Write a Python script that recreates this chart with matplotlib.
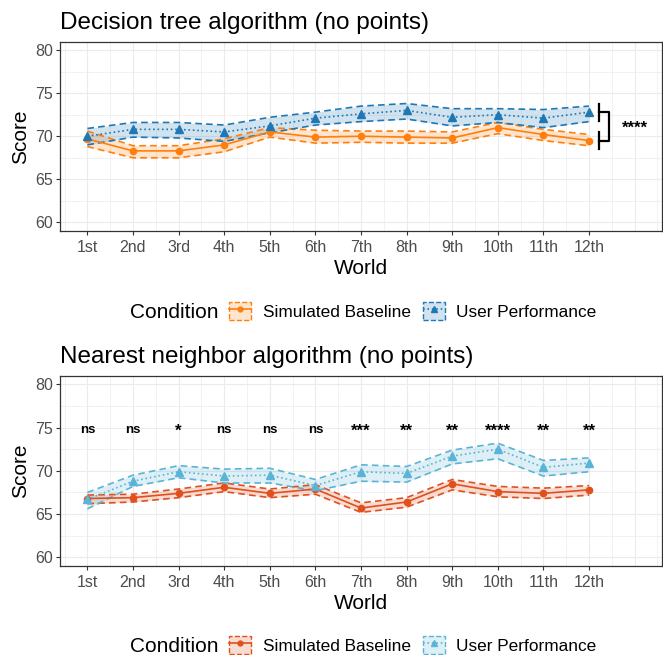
import numpy as np
import matplotlib
matplotlib.use("Agg")
import matplotlib.pyplot as plt
from matplotlib.patches import Patch
from matplotlib.lines import Line2D
from matplotlib.legend_handler import HandlerTuple
from matplotlib.colors import to_rgba

plt.rcParams['font.family'] = ['Liberation Sans', 'DejaVu Sans']

worlds = ["1st", "2nd", "3rd", "4th", "5th", "6th", "7th", "8th", "9th", "10th", "11th", "12th"]

# decision tree (top panel)
dt_sim = [69.7, 68.3, 68.3, 69.0, 70.5, 69.9, 70.0, 69.9, 69.8, 71.0, 70.2, 69.5]
dt_sim_lo = [68.8, 67.5, 67.5, 68.2, 69.9, 69.2, 69.3, 69.2, 69.2, 70.3, 69.5, 68.9]
dt_sim_hi = [70.6, 68.9, 68.9, 69.7, 71.0, 70.7, 70.6, 70.6, 70.5, 71.6, 70.8, 70.2]
dt_user = [70.0, 70.8, 70.8, 70.5, 71.2, 72.1, 72.6, 73.0, 72.2, 72.5, 72.1, 72.8]
dt_user_lo = [69.0, 69.9, 69.8, 69.4, 70.4, 71.3, 71.7, 72.0, 71.2, 71.6, 71.0, 71.7]
dt_user_hi = [70.9, 71.6, 71.6, 71.3, 72.2, 72.8, 73.5, 73.8, 73.2, 73.2, 73.1, 73.5]

# nearest neighbor (bottom panel)
nn_sim = [66.8, 66.9, 67.4, 68.1, 67.4, 67.9, 65.7, 66.4, 68.5, 67.6, 67.4, 67.8]
nn_sim_lo = [66.2, 66.4, 66.9, 67.6, 66.9, 67.3, 65.2, 65.8, 67.8, 67.0, 66.8, 67.2]
nn_sim_hi = [67.2, 67.3, 67.9, 68.6, 67.9, 68.4, 66.3, 66.9, 69.0, 68.2, 68.0, 68.3]
nn_user = [66.7, 68.8, 69.9, 69.4, 69.5, 68.3, 69.9, 69.7, 71.7, 72.5, 70.4, 70.9]
nn_user_lo = [65.6, 68.2, 69.2, 68.6, 68.6, 67.7, 68.8, 68.7, 70.8, 71.4, 69.4, 69.9]
nn_user_hi = [67.5, 69.5, 70.6, 70.2, 70.3, 69.0, 70.7, 70.5, 72.4, 73.2, 71.2, 71.5]
nn_sig = ["ns", "ns", "*", "ns", "ns", "ns", "***", "**", "**", "****", "**", "**"]

x = np.arange(1, len(worlds) + 1)

fig = plt.figure(figsize=(6.63, 6.55), dpi=100)
ax1 = fig.add_axes([60 / 663, 1 - 231 / 655, 602 / 663, 189.5 / 655])
ax2 = fig.add_axes([60 / 663, 1 - 566 / 655, 602 / 663, 190.3 / 655])


def draw_series(ax, y, lo, hi, color, marker, ls):
    ax.fill_between(x, lo, hi, color=color, alpha=0.2, lw=0, zorder=2)
    ax.plot(x, lo, color=color, ls=(0, (4, 2.5)), lw=1.2, zorder=3)
    ax.plot(x, hi, color=color, ls=(0, (4, 2.5)), lw=1.2, zorder=3)
    ax.plot(x, y, color=color, ls=ls, lw=1.2, marker=marker,
            markersize=5.5 if marker == '^' else 4.5, zorder=4)


def style_axes(ax, title):
    ax.set_xlim(0.4, 13.6)
    ax.set_ylim(59, 81)
    for v in np.arange(0.5, 14, 0.5):
        ax.axvline(v, color='#EBEBEB', lw=0.8 if v % 1 == 0 else 0.5, zorder=0)
    for v in np.arange(60, 81, 2.5):
        ax.axhline(v, color='#EBEBEB', lw=0.8 if v % 5 == 0 else 0.5, zorder=0)
    ax.set_xticks(x)
    ax.set_xticklabels(worlds)
    ax.set_yticks([60, 65, 70, 75, 80])
    ax.tick_params(colors='#333333', labelcolor='#4D4D4D', labelsize=11.5,
                   length=3, width=0.8, pad=2)
    ax.tick_params(axis='x', pad=3.5)
    for s in ax.spines.values():
        s.set_color('#333333')
        s.set_linewidth(0.9)
    ax.set_xlabel("World", fontsize=15, labelpad=3)
    ax.set_ylabel("Score", fontsize=15, labelpad=4)
    ax.set_title(title, loc='left', fontsize=17.5, pad=9)


def sig_text(ax, xi, yi, s):
    # asterisks render smaller than letters, so give them a larger size
    size = 12 if s.startswith('*') else 9.5
    ax.text(xi, yi, s, ha='center', va='baseline', fontsize=size, fontweight='bold')


c_org, c_blu = '#ff7f0e', '#1f77b4'
c_red, c_lbl = '#e0501f', '#5ab4d6'

draw_series(ax1, dt_sim, dt_sim_lo, dt_sim_hi, c_org, 'o', '-')
draw_series(ax1, dt_user, dt_user_lo, dt_user_hi, c_blu, '^', ':')
style_axes(ax1, "Decision tree algorithm (no points)")

# significance bracket
bx0, bx1 = 12.21, 12.43
ax1.plot([bx0, bx0], [dt_user[-1] - 1.0, dt_user[-1] + 1.0], color='black', lw=1.6)
ax1.plot([bx0, bx0], [dt_sim[-1] - 1.0, dt_sim[-1] + 1.0], color='black', lw=1.6)
ax1.plot([bx0, bx1, bx1, bx0], [dt_user[-1], dt_user[-1], dt_sim[-1], dt_sim[-1]],
         color='black', lw=1.6)
sig_text(ax1, 13.0, 70.4, "****")

draw_series(ax2, nn_sim, nn_sim_lo, nn_sim_hi, c_red, 'o', '-')
draw_series(ax2, nn_user, nn_user_lo, nn_user_hi, c_lbl, '^', ':')
style_axes(ax2, "Nearest neighbor algorithm (no points)")
for xi, s in zip(x, nn_sig):
    sig_text(ax2, xi, 74.4 if s == "ns" else 74.1, s)


def add_legend(c1, c2, yc):
    h1 = (Patch(facecolor=to_rgba(c1, 0.2), edgecolor=c1, linestyle='--', lw=1.0),
          Line2D([], [], color=c1, ls='-', marker='o', markersize=3.5, lw=1.2))
    h2 = (Patch(facecolor=to_rgba(c2, 0.2), edgecolor=c2, linestyle='--', lw=1.0),
          Line2D([], [], color=c2, ls=':', marker='^', markersize=4, lw=1.2))
    fig.text(130 / 663, yc - 0.003, "Condition", fontsize=15, va='center', ha='left')
    fig.legend([h1, h2], ["Simulated Baseline", "User Performance"],
               handler_map={tuple: HandlerTuple(ndivide=1)},
               loc='center left', bbox_to_anchor=(229 / 663, yc), ncol=2,
               frameon=False, fontsize=12.4, borderpad=0, borderaxespad=0,
               handlelength=1.3, handleheight=1.3, handletextpad=0.65,
               columnspacing=0.7)


add_legend(c_org, c_blu, 1 - 311 / 655)
add_legend(c_red, c_lbl, 1 - 645 / 655)

fig.savefig("out.png", dpi=100)
